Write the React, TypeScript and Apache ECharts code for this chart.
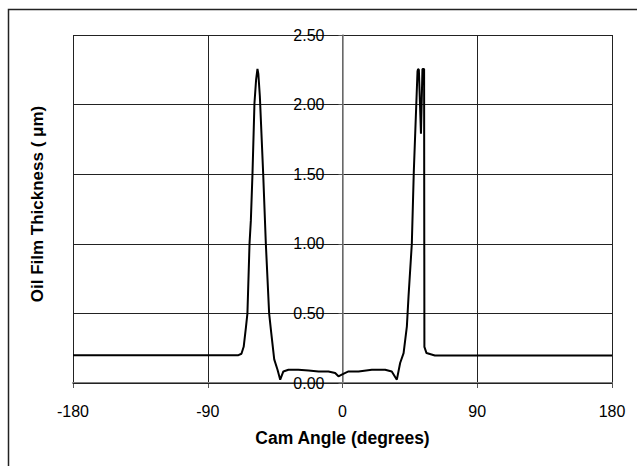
import React, { useEffect, useRef } from "react";
import * as echarts from "echarts";

const camAngle = [
  -180, -150, -120, -90, -75, -69.5, -67.5, -66.0, -64.5, -63.5, -62.1, -61.2, -60.1, -58.8,
  -57.7, -56.8, -56.2, -55.2, -53.0, -51.2, -49.0, -47.8, -45.6, -43.4, -41.6, -39.5, -36.1,
  -29.5, -22.7, -16.0, -9.4, -4.9, -2.7, -0.5, 4.0, 10.7, 19.6, 28.5, 32.9, 36.3, 38.5, 40.8,
  43.0, 44.1, 46.3, 47.6, 50.1, 50.5, 51.0, 52.4, 53.4, 54.5, 54.7, 56.1, 61.7, 90, 120, 150, 180,
];
const filmThickness = [
  0.2, 0.2, 0.2, 0.2, 0.2, 0.2, 0.21, 0.26, 0.4, 0.5, 1.0, 1.17, 1.51, 2.01,
  2.18, 2.256, 2.22, 2.06, 1.51, 1.0, 0.5, 0.38, 0.17, 0.095, 0.024, 0.083, 0.095,
  0.095, 0.09, 0.083, 0.083, 0.072, 0.048, 0.06, 0.083, 0.083, 0.095, 0.095, 0.083, 0.024, 0.144, 0.215,
  0.407, 0.622, 1.0, 1.51, 2.24, 2.256, 2.25, 1.79, 2.256, 2.256, 0.26, 0.215, 0.198, 0.198, 0.198, 0.198, 0.198,
];
const xTitle = "Cam Angle (degrees)";
const yTitle = "Oil Film Thickness ( μm)";

const FONT = "'Liberation Sans', Arial, sans-serif";
const GRID_LEFT = 73;
const GRID_RIGHT = 25;
const WIDTH = 637;

export default function App() {
  const ref = useRef<HTMLDivElement>(null);
  useEffect(() => {
    if (!ref.current) return;
    const chart = echarts.init(ref.current, null, { renderer: "svg" });
    const data = camAngle.map((a, i) => [a, filmThickness[i]]);
    const plotW = WIDTH - GRID_LEFT - GRID_RIGHT;
    const yAxisOffset = -plotW / 2;
    chart.setOption({
      animation: false,
      backgroundColor: "#ffffff",
      textStyle: { fontFamily: FONT },
      grid: { left: GRID_LEFT, right: GRID_RIGHT, top: 35, bottom: 83, containLabel: false },
      graphic: [
        {
          type: "rect",
          shape: { x: 8.5, y: 9.5, width: 700, height: 600 },
          style: { fill: "none", stroke: "#222", lineWidth: 1.5 },
          silent: true,
        },
        {
          type: "text",
          x: 37,
          y: 204,
          rotation: Math.PI / 2,
          style: {
            text: yTitle,
            fontFamily: FONT,
            fontSize: 17,
            fontWeight: "bold",
            fill: "#000",
            align: "center",
            verticalAlign: "middle",
          },
        },
      ],
      xAxis: {
        type: "value",
        min: -180,
        max: 180,
        interval: 90,
        name: xTitle,
        nameLocation: "middle",
        nameGap: 46,
        nameTextStyle: { fontFamily: FONT, fontSize: 17.5, fontWeight: "bold", color: "#000", verticalAlign: "top" },
        axisLine: { onZero: false, lineStyle: { color: "#808080", width: 2 } },
        axisTick: { show: true, length: 5, lineStyle: { color: "#555", width: 1 } },
        axisLabel: { fontFamily: FONT, fontSize: 16, color: "#000", margin: 20 },
        splitLine: { show: true, lineStyle: { color: "#222", width: 1 } },
        z: 1,
      },
      yAxis: {
        type: "value",
        min: 0,
        max: 2.5,
        interval: 0.5,
        position: "left",
        offset: yAxisOffset,
        axisLine: { show: true, onZero: false, lineStyle: { color: "#808080", width: 1.5 } },
        axisTick: { show: true, length: 4, lineStyle: { color: "#555", width: 1 } },
        axisLabel: {
          fontFamily: FONT,
          fontSize: 16,
          color: "#000",
          margin: 18,
          formatter: (v: number) => v.toFixed(2),
        },
        splitLine: { show: true, lineStyle: { color: "#222", width: 1 } },
        z: 2,
      },
      series: [
        {
          type: "line",
          data,
          showSymbol: false,
          symbol: "none",
          lineStyle: { color: "#000", width: 2 },
          z: 5,
        },
      ],
    });
    return () => chart.dispose();
  }, []);
  return <div ref={ref} style={{ width: 637, height: 466, position: "absolute", left: 0, top: 0 }} />;
}
